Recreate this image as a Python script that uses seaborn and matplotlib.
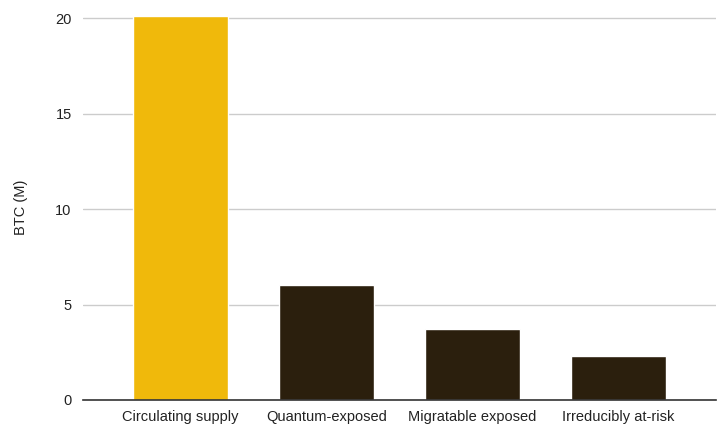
import pandas as pd
import matplotlib
matplotlib.use("Agg")
import matplotlib.pyplot as plt
import seaborn as sns

categories = ["Circulating supply", "Quantum-exposed", "Migratable exposed", "Irreducibly at-risk"]
btc_millions = [20.1, 6.0, 3.7, 2.3]
bar_colors = ["#F0B90B", "#2B1F0D", "#2B1F0D", "#2B1F0D"]
y_ticks = [0, 5, 10, 15, 20]

df = pd.DataFrame({"Category": categories, "BTC": btc_millions})

sns.set_style("white")
plt.rcParams["font.family"] = ["Liberation Sans", "DejaVu Sans"]

fig = plt.figure(figsize=(7.26, 4.30), dpi=100)
ax = fig.add_axes([0.114, 0.0698, 0.872, 0.897])

sns.barplot(data=df, x="Category", y="BTC", hue="Category", palette=bar_colors,
            legend=False, width=0.65, saturation=1, ax=ax, zorder=3)

ax.set_ylim(0, 20.2)
ax.set_xlim(-0.67, 3.67)
ax.set_yticks(y_ticks)
ax.yaxis.grid(True, color="#cccccc", linewidth=1, zorder=0)
ax.set_axisbelow(True)
for side in ["top", "right", "left"]:
    ax.spines[side].set_visible(False)
ax.spines["bottom"].set_color("#333333")
ax.spines["bottom"].set_linewidth(1.2)
ax.spines["bottom"].set_zorder(4)

ax.tick_params(axis="both", length=0, labelsize=10.5, colors="#222222")
ax.tick_params(axis="y", pad=8)
ax.tick_params(axis="x", pad=7)
ax.set_xlabel("")
ax.set_ylabel("BTC (M)", fontsize=10.5, color="#222222", labelpad=20)

fig.savefig("out.png", dpi=100)
